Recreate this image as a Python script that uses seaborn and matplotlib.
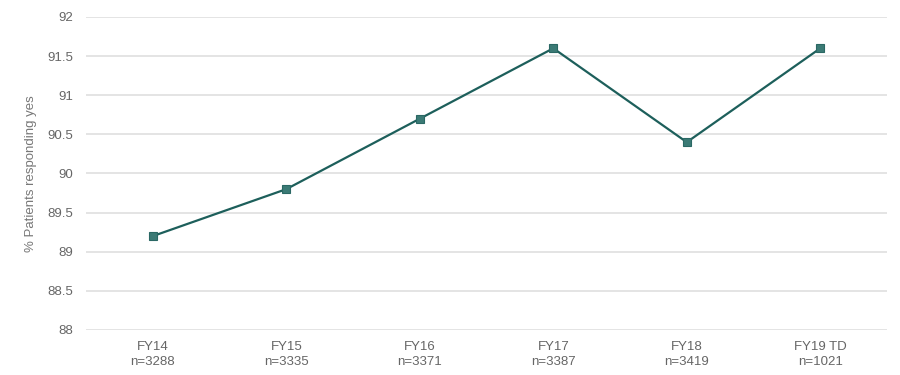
import matplotlib
matplotlib.use("Agg")
import matplotlib.pyplot as plt
import seaborn as sns
import pandas as pd

categories = ["FY14\nn=3288", "FY15\nn=3335", "FY16\nn=3371", "FY17\nn=3387", "FY18\nn=3419", "FY19 TD\nn=1021"]
values = [89.2, 89.8, 90.7, 91.6, 90.4, 91.6]
yticks = [88, 88.5, 89, 89.5, 90, 90.5, 91, 91.5, 92]
ytick_labels = ["88", "88.5", "89", "89.5", "90", "90.5", "91", "91.5", "92"]

sns.set_theme(style="white")
plt.rcParams['font.family'] = ['Liberation Sans', 'DejaVu Sans']

df = pd.DataFrame({"cat": categories, "val": values})

fig = plt.figure(figsize=(9, 3.75), dpi=100)
ax = fig.add_axes([0.0956, 0.12, 0.89, 0.8347])

sns.lineplot(data=df, x="cat", y="val", ax=ax, color="#1d5f5b", linewidth=1.6,
             marker="s", markersize=6, markerfacecolor="#3b7a75",
             markeredgecolor="#2a6864", markeredgewidth=0.8, sort=False)

ax.set_xlim(-0.5, len(categories) - 0.5)
ax.set_ylim(88, 92)
ax.set_yticks(yticks)
ax.set_yticklabels(ytick_labels)
ax.yaxis.grid(True, color="#e2e2e2", linewidth=1.3)
ax.set_axisbelow(True)
for s in ax.spines.values():
    s.set_visible(False)
ax.tick_params(axis="both", length=0, colors="#666666", labelsize=9.5)
ax.tick_params(axis="y", pad=9)
ax.tick_params(axis="x", pad=8)
for lbl in ax.get_xticklabels():
    lbl.set_linespacing(1.35)
ax.set_xlabel("")
ax.set_ylabel("% Patients responding yes", color="#777777", fontsize=9.5, labelpad=8)

fig.savefig("out.png", dpi=100)
